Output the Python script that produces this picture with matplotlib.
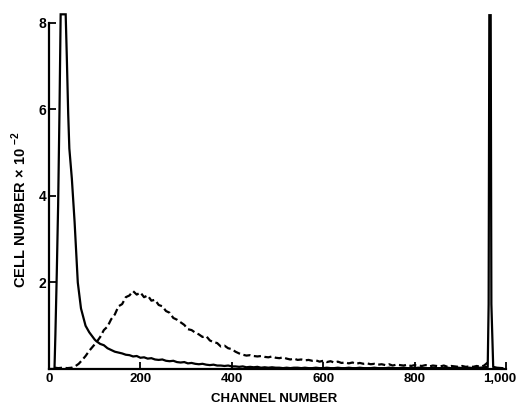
import numpy as np
import matplotlib
matplotlib.use("Agg")
import matplotlib.pyplot as plt
import matplotlib.transforms as mtransforms

FAM = ['Liberation Sans', 'DejaVu Sans']
plt.rcParams['font.family'] = FAM
plt.rcParams['mathtext.fontset'] = 'custom'
plt.rcParams['mathtext.rm'] = 'Liberation Sans:bold'
plt.rcParams['mathtext.bf'] = 'Liberation Sans:bold'

# ---- data ----
solid_head_ch = [0, 12, 14, 17, 20, 23, 25.5, 30, 36.5, 39, 42, 44.5, 50, 56, 63, 70, 75, 80, 88, 95, 100]
solid_head_val = [0, 0, 0.8, 2.2, 3.8, 6.0, 8.2, 8.2, 8.2, 7.2, 5.9, 5.1, 4.4, 3.4, 2.0, 1.4, 1.2, 1.0, 0.85, 0.75, 0.68]

tail_ch = np.arange(104, 961, 8)

solid_tail_val = [
    0.64, 0.58, 0.55, 0.48, 0.44, 0.40, 0.38, 0.36, 0.33, 0.32,
    0.29, 0.30, 0.26, 0.27, 0.24, 0.25, 0.22, 0.21, 0.22, 0.19,
    0.18, 0.19, 0.16, 0.15, 0.16, 0.13, 0.14, 0.12, 0.11, 0.12,
    0.10, 0.09, 0.10, 0.08, 0.08, 0.07, 0.08, 0.06, 0.06, 0.05,
    0.06, 0.04, 0.05, 0.04, 0.05, 0.03, 0.04, 0.03, 0.04, 0.03,
    0.03, 0.02, 0.03, 0.02, 0.03, 0.03, 0.02, 0.03, 0.02, 0.02,
    0.03, 0.02, 0.02, 0.03, 0.02, 0.02, 0.03, 0.02, 0.02, 0.03,
    0.02, 0.02, 0.03, 0.02, 0.02, 0.02, 0.03, 0.02, 0.02, 0.02,
    0.03, 0.02, 0.02, 0.02, 0.03, 0.02, 0.02, 0.02, 0.03, 0.02,
    0.02, 0.02, 0.03, 0.02, 0.02, 0.02, 0.03, 0.02, 0.02, 0.03,
    0.02, 0.02, 0.03, 0.02, 0.03, 0.03, 0.04, 0.05,
]

spike_ch = [962, 963.5, 966.5, 968, 972, 980, 992]
spike_val = [1.5, 8.18, 8.18, 1.5, 0.05, 0.03, 0.02]

dashed_head_ch = [13, 20, 30, 40, 50, 57, 65, 72, 80, 88, 96]
dashed_head_val = [0.03, 0.02, 0.03, 0.02, 0.03, 0.06, 0.12, 0.20, 0.30, 0.42, 0.52]

dashed_tail_val = [
    0.62, 0.74, 0.90, 0.98, 1.15, 1.26, 1.45, 1.50, 1.66, 1.70,
    1.80, 1.72, 1.77, 1.66, 1.70, 1.58, 1.60, 1.48, 1.45, 1.34,
    1.30, 1.18, 1.14, 1.08, 1.02, 0.92, 0.90, 0.84, 0.80, 0.74,
    0.76, 0.66, 0.62, 0.60, 0.52, 0.54, 0.48, 0.46, 0.40, 0.36,
    0.33, 0.31, 0.32, 0.30, 0.29, 0.30, 0.28, 0.27, 0.29, 0.26,
    0.25, 0.27, 0.24, 0.22, 0.24, 0.21, 0.22, 0.20, 0.21, 0.19,
    0.20, 0.17, 0.19, 0.16, 0.18, 0.15, 0.17, 0.14, 0.15, 0.13,
    0.15, 0.12, 0.14, 0.12, 0.13, 0.11, 0.12, 0.10, 0.11, 0.09,
    0.11, 0.08, 0.10, 0.09, 0.08, 0.10, 0.07, 0.09, 0.08, 0.07,
    0.09, 0.06, 0.08, 0.07, 0.06, 0.08, 0.05, 0.07, 0.06, 0.05,
    0.07, 0.05, 0.06, 0.05, 0.07, 0.05, 0.08, 0.15,
]

x_ticks = [0, 200, 400, 600, 800, 1000]
x_tick_labels = ['0', '200', '400', '600', '800', '1,000']
y_ticks = [2, 4, 6, 8]
y_tick_labels = ['2', '4', '6', '8']

# ---- figure ----
W, H = 518, 404
fig = plt.figure(figsize=(W / 100, H / 100), dpi=100)
ax = fig.add_axes([49 / W, 35 / H, 457 / W, 359 / H])

solid_x = list(solid_head_ch) + list(tail_ch) + spike_ch
solid_y = list(solid_head_val) + list(solid_tail_val) + spike_val
dashed_x = list(dashed_head_ch) + list(tail_ch)
dashed_y = list(dashed_head_val) + list(dashed_tail_val)

ax.plot(dashed_x, dashed_y, color='black', lw=1.6, linestyle=(0, (3.2, 1.6)))
ax.plot(solid_x, solid_y, color='black', lw=1.6, solid_joinstyle='miter')

ax.set_xlim(0, 1000)
ax.set_ylim(0, 8.3)
ax.spines['top'].set_visible(False)
ax.spines['right'].set_visible(False)
ax.spines['left'].set_bounds(0, 8)
for s in ('left', 'bottom'):
    ax.spines[s].set_linewidth(1.6)

ax.set_xticks(x_ticks)
ax.set_xticklabels(x_tick_labels, fontsize=9.5, fontweight='bold')
ax.set_yticks(y_ticks)
ax.set_yticklabels(y_tick_labels, fontsize=10, fontweight='bold')
ax.tick_params(direction='in', length=5, width=1.3)
ax.tick_params(axis='x', pad=3)
ax.tick_params(axis='y', pad=2)

# nudge the last x label so it stays inside the picture, as in the reference
last = ax.get_xticklabels()[-1]
last.set_transform(last.get_transform() + mtransforms.ScaledTranslation(-6 / 100, 0, fig.dpi_scale_trans))

fig.text(274 / W, 1 - 402 / H, 'CHANNEL NUMBER', fontsize=9.5, fontweight='bold',
         ha='center', va='baseline')
fig.text(19 / W, 1 - 210 / H, r'CELL NUMBER $\times$ 10 $^{-2}$', fontsize=10.5, fontweight='bold',
         ha='center', va='center', rotation=90)

fig.savefig('out.png', dpi=100)
